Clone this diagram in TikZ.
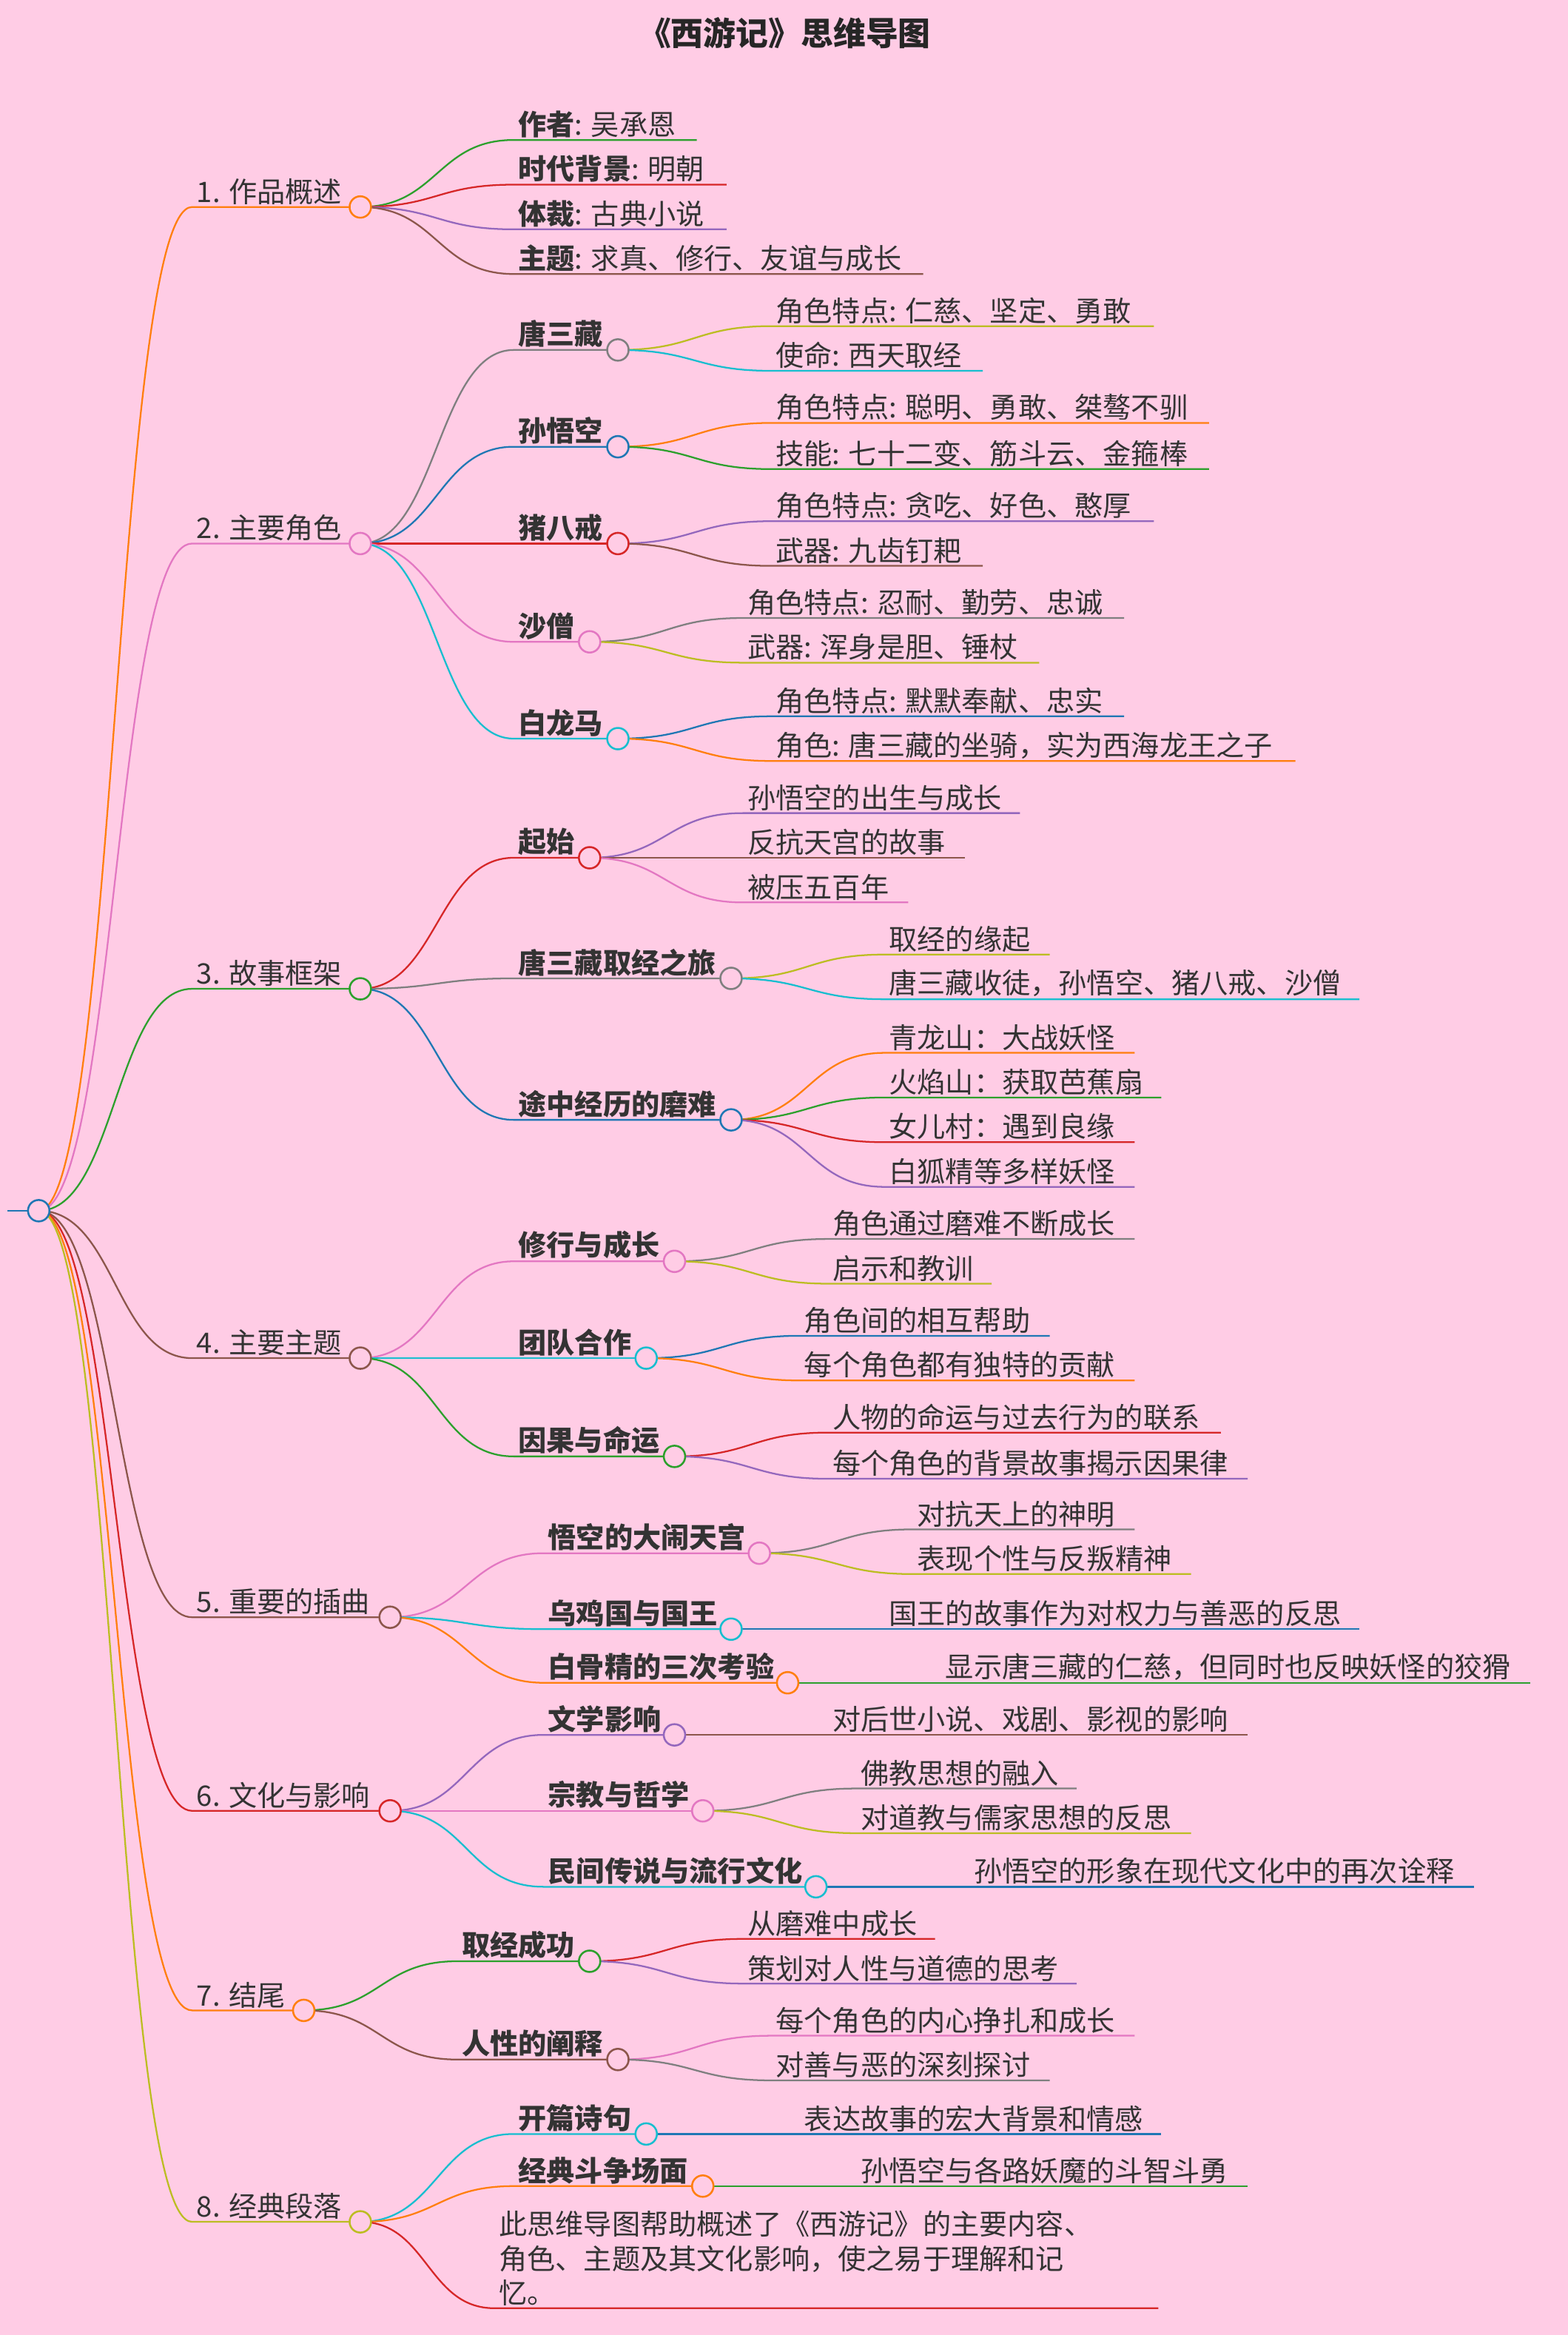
\documentclass[tikz,border=0pt]{standalone}
\usepackage{fontspec}
\setmainfont{Noto Sans CJK SC}
\usetikzlibrary{calc}
\definecolor{bgpink}{HTML}{FFCCE5}
\definecolor{corange}{HTML}{FF7F0E}
\definecolor{cpink}{HTML}{E377C2}
\definecolor{cgreen}{HTML}{2CA02C}
\definecolor{cbrown}{HTML}{8C564B}
\definecolor{cred}{HTML}{D62728}
\definecolor{colive}{HTML}{BCBD22}
\definecolor{cpurple}{HTML}{9467BD}
\definecolor{cgray}{HTML}{7F7F7F}
\definecolor{ccyan}{HTML}{17BECF}
\definecolor{cblue}{HTML}{1F77B4}
\pgfdeclarelayer{back}
\pgfdeclarelayer{bg}
\pgfsetlayers{back,bg,main}
\tikzset{
  wire/.style={line width=1.6pt},
  lbl/.style={anchor=south west, inner sep=0pt, yshift=2pt, text=black!80,
    font=\fontsize{27}{33}\selectfont},
  knob/.style={circle, fill=bgpink, line width=1.8pt, minimum size=0.72cm, inner sep=0pt}
}
% one branch: name, parent, text x, line y, line end x, colour, text
\newcommand{\branch}[7]{%
  \coordinate (#1s) at (#3-3,#4);
  \coordinate (#1e) at (#5,#4);
  \node[lbl] (#1) at (#3,#4) {#7};
  \begin{pgfonlayer}{bg}
    \draw[wire,#6] let \p1=(#2), \p2=(#1s) in
      (\p1) .. controls (\x1/2+\x2/2,\y1) and (\x1/2+\x2/2,\y2) .. (\p2) -- (#1e);
  \end{pgfonlayer}}
\newcommand{\knob}[4]{\node[knob,draw=#4] (#1) at (#2,#3) {};}

\begin{document}
\begin{tikzpicture}[x=0.05cm,y=-0.05cm]
  \begin{pgfonlayer}{back}
    \fill[bgpink] (0,0) rectangle (1053,1568);
  \end{pgfonlayer}
  \useasboundingbox (0,0) rectangle (1053,1568);
  \node[font=\bfseries\fontsize{31}{36}\selectfont, text=black!85] (title) at (527,22) {《西游记》思维导图};

  \coordinate (r0) at (5,813);
  \knob{r}{26}{813}{cblue}
  \begin{pgfonlayer}{bg}\draw[wire,cblue] (r0) -- (r);\end{pgfonlayer}

  % 1
  \branch{a}{r}{132}{139}{242}{corange}{1. 作品概述}
  \knob{ak}{242}{139}{corange}
  \branch{a1}{ak}{348}{94}{468}{cgreen}{\textbf{作者}: 吴承恩}
  \branch{a2}{ak}{348}{124}{488}{cred}{\textbf{时代背景}: 明朝}
  \branch{a3}{ak}{348}{154}{488}{cpurple}{\textbf{体裁}: 古典小说}
  \branch{a4}{ak}{348}{184}{620}{cbrown}{\textbf{主题}: 求真、修行、友谊与成长}

  % 2
  \branch{b}{r}{132}{365}{242}{cpink}{2. 主要角色}
  \knob{bk}{242}{365}{cpink}
  \branch{b1}{bk}{348}{235}{415}{cgray}{\textbf{唐三藏}}
  \knob{b1k}{415}{235}{cgray}
  \branch{b11}{b1k}{521}{219}{775}{colive}{角色特点: 仁慈、坚定、勇敢}
  \branch{b12}{b1k}{521}{249}{660}{ccyan}{使命: 西天取经}
  \branch{b2}{bk}{348}{300}{415}{cblue}{\textbf{孙悟空}}
  \knob{b2k}{415}{300}{cblue}
  \branch{b21}{b2k}{521}{284}{812}{corange}{角色特点: 聪明、勇敢、桀骜不驯}
  \branch{b22}{b2k}{521}{315}{812}{cgreen}{技能: 七十二变、筋斗云、金箍棒}
  \branch{b3}{bk}{348}{365}{415}{cred}{\textbf{猪八戒}}
  \knob{b3k}{415}{365}{cred}
  \branch{b31}{b3k}{521}{350}{775}{cpurple}{角色特点: 贪吃、好色、憨厚}
  \branch{b32}{b3k}{521}{380}{660}{cbrown}{武器: 九齿钉耙}
  \branch{b4}{bk}{348}{431}{396}{cpink}{\textbf{沙僧}}
  \knob{b4k}{396}{431}{cpink}
  \branch{b41}{b4k}{502}{415}{755}{cgray}{角色特点: 忍耐、勤劳、忠诚}
  \branch{b42}{b4k}{502}{445}{698}{colive}{武器: 浑身是胆、锤杖}
  \branch{b5}{bk}{348}{496}{415}{ccyan}{\textbf{白龙马}}
  \knob{b5k}{415}{496}{ccyan}
  \branch{b51}{b5k}{521}{481}{755}{cblue}{角色特点: 默默奉献、忠实}
  \branch{b52}{b5k}{521}{511}{870}{corange}{角色: 唐三藏的坐骑，实为西海龙王之子}

  % 3
  \branch{c}{r}{132}{664}{242}{cgreen}{3. 故事框架}
  \knob{ck}{242}{664}{cgreen}
  \branch{c1}{ck}{348}{576}{396}{cred}{\textbf{起始}}
  \knob{c1k}{396}{576}{cred}
  \branch{c11}{c1k}{502}{546}{685}{cpurple}{孙悟空的出生与成长}
  \branch{c12}{c1k}{502}{576}{648}{cbrown}{反抗天宫的故事}
  \branch{c13}{c1k}{502}{606}{610}{cpink}{被压五百年}
  \branch{c2}{ck}{348}{657}{491}{cgray}{\textbf{唐三藏取经之旅}}
  \knob{c2k}{491}{657}{cgray}
  \branch{c21}{c2k}{597}{641}{705}{colive}{取经的缘起}
  \branch{c22}{c2k}{597}{671}{913}{ccyan}{唐三藏收徒，孙悟空、猪八戒、沙僧}
  \branch{c3}{ck}{348}{752}{491}{cblue}{\textbf{途中经历的磨难}}
  \knob{c3k}{491}{752}{cblue}
  \branch{c31}{c3k}{597}{707}{762}{corange}{青龙山：大战妖怪}
  \branch{c32}{c3k}{597}{737}{780}{cgreen}{火焰山：获取芭蕉扇}
  \branch{c33}{c3k}{597}{767}{762}{cred}{女儿村：遇到良缘}
  \branch{c34}{c3k}{597}{797}{762}{cpurple}{白狐精等多样妖怪}

  % 4
  \branch{d}{r}{132}{912}{242}{cbrown}{4. 主要主题}
  \knob{dk}{242}{912}{cbrown}
  \branch{d1}{dk}{348}{847}{453}{cpink}{\textbf{修行与成长}}
  \knob{d1k}{453}{847}{cpink}
  \branch{d11}{d1k}{559}{832}{762}{cgray}{角色通过磨难不断成长}
  \branch{d12}{d1k}{559}{862}{666}{colive}{启示和教训}
  \branch{d2}{dk}{348}{912}{434}{ccyan}{\textbf{团队合作}}
  \knob{d2k}{434}{912}{ccyan}
  \branch{d21}{d2k}{540}{897}{705}{cblue}{角色间的相互帮助}
  \branch{d22}{d2k}{540}{927}{762}{corange}{每个角色都有独特的贡献}
  \branch{d3}{dk}{348}{978}{453}{cgreen}{\textbf{因果与命运}}
  \knob{d3k}{453}{978}{cgreen}
  \branch{d31}{d3k}{559}{962}{820}{cred}{人物的命运与过去行为的联系}
  \branch{d32}{d3k}{559}{993}{838}{cpurple}{每个角色的背景故事揭示因果律}

  % 5
  \branch{e}{r}{132}{1086}{262}{cbrown}{5. 重要的插曲}
  \knob{ek}{262}{1086}{cbrown}
  \branch{e1}{ek}{368}{1043}{510}{cpink}{\textbf{悟空的大闹天宫}}
  \knob{e1k}{510}{1043}{cpink}
  \branch{e11}{e1k}{616}{1027}{762}{cgray}{对抗天上的神明}
  \branch{e12}{e1k}{616}{1057}{800}{colive}{表现个性与反叛精神}
  \branch{e2}{ek}{368}{1094}{491}{ccyan}{\textbf{乌鸡国与国王}}
  \knob{e2k}{491}{1094}{ccyan}
  \branch{e21}{e2k}{597}{1094}{913}{cblue}{国王的故事作为对权力与善恶的反思}
  \branch{e3}{ek}{368}{1130}{529}{corange}{\textbf{白骨精的三次考验}}
  \knob{e3k}{529}{1130}{corange}
  \branch{e31}{e3k}{635}{1130}{1028}{cgreen}{显示唐三藏的仁慈，但同时也反映妖怪的狡猾}

  % 6
  \branch{f}{r}{132}{1216}{262}{cred}{6. 文化与影响}
  \knob{fk}{262}{1216}{cred}
  \branch{f1}{fk}{368}{1165}{453}{cpurple}{\textbf{文学影响}}
  \knob{f1k}{453}{1165}{cpurple}
  \branch{f11}{f1k}{559}{1165}{838}{cbrown}{对后世小说、戏剧、影视的影响}
  \branch{f2}{fk}{368}{1216}{472}{cpink}{\textbf{宗教与哲学}}
  \knob{f2k}{472}{1216}{cpink}
  \branch{f21}{f2k}{578}{1201}{723}{cgray}{佛教思想的融入}
  \branch{f22}{f2k}{578}{1231}{800}{colive}{对道教与儒家思想的反思}
  \branch{f3}{fk}{368}{1267}{548}{ccyan}{\textbf{民间传说与流行文化}}
  \knob{f3k}{548}{1267}{ccyan}
  \branch{f31}{f3k}{654}{1267}{990}{cblue}{孙悟空的形象在现代文化中的再次诠释}

  % 7
  \branch{g}{r}{132}{1350}{204}{corange}{7. 结尾}
  \knob{gk}{204}{1350}{corange}
  \branch{g1}{gk}{310}{1317}{396}{cgreen}{\textbf{取经成功}}
  \knob{g1k}{396}{1317}{cgreen}
  \branch{g11}{g1k}{502}{1302}{628}{cred}{从磨难中成长}
  \branch{g12}{g1k}{502}{1332}{723}{cpurple}{策划对人性与道德的思考}
  \branch{g2}{gk}{310}{1383}{415}{cbrown}{\textbf{人性的阐释}}
  \knob{g2k}{415}{1383}{cbrown}
  \branch{g21}{g2k}{521}{1367}{762}{cpink}{每个角色的内心挣扎和成长}
  \branch{g22}{g2k}{521}{1397}{705}{cgray}{对善与恶的深刻探讨}

  % 8
  \branch{h}{r}{132}{1492}{242}{colive}{8. 经典段落}
  \knob{hk}{242}{1492}{colive}
  \branch{h1}{hk}{348}{1433}{434}{ccyan}{\textbf{开篇诗句}}
  \knob{h1k}{434}{1433}{ccyan}
  \branch{h11}{h1k}{540}{1433}{780}{cblue}{表达故事的宏大背景和情感}
  \branch{h2}{hk}{348}{1468}{472}{corange}{\textbf{经典斗争场面}}
  \knob{h2k}{472}{1468}{corange}
  \branch{h21}{h2k}{578}{1468}{838}{cgreen}{孙悟空与各路妖魔的斗智斗勇}
  \branch{h3}{hk}{335}{1550}{778}{cred}{\parbox{22cm}{\fontsize{27}{33}\selectfont
    此思维导图帮助概述了《西游记》的主要内容、\\角色、主题及其文化影响，使之易于理解和记\\忆。}}
\end{tikzpicture}
\end{document}
